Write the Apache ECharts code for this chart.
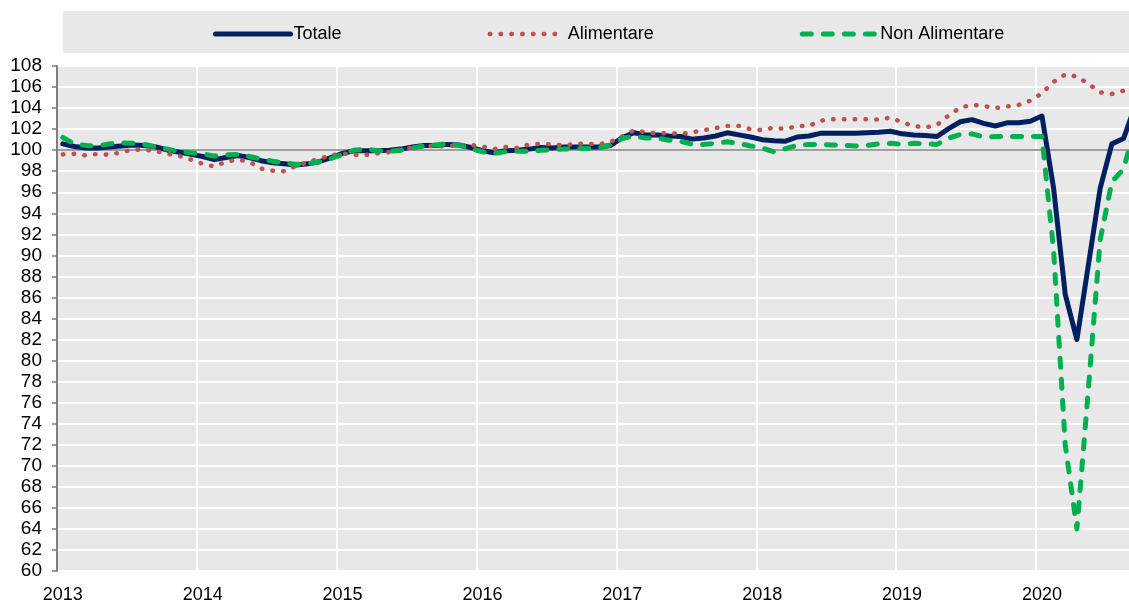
<!DOCTYPE html>
<html>
<head>
<meta charset="utf-8">
<title>Indici vendite</title>
<script src="https://cdn.jsdelivr.net/npm/echarts@6/dist/echarts.min.js"></script>
<style>
  html, body { margin: 0; padding: 0; background: #fff; }
  #chart { width: 1129px; height: 611px; }
</style>
</head>
<body>
<div id="chart"></div>
<script>
// years shown on the axis, one category per month
const years = ['2013', '2014', '2015', '2016', '2017', '2018', '2019', '2020']
const monthsIn2020 = 9
const months = []
years.forEach(y => {
  const n = y === '2020' ? monthsIn2020 : 12
  for (let m = 1; m <= n; m++) months.push(y + '-' + String(m).padStart(2, '0'))
})

const yTicks = { min: 60, max: 108, step: 2 }

// Totale
const totale = [
  100.6, 100.35, 100.2, 100.2, 100.3, 100.4, 100.5, 100.45, 100.3, 100.0, 99.8, 99.6,
  99.4, 99.1, 99.3, 99.5, 99.3, 99.0, 98.8, 98.7, 98.6, 98.7, 98.9, 99.3,
  99.7, 99.95, 99.95, 99.95, 100.0, 100.1, 100.3, 100.45, 100.45, 100.55, 100.5, 100.25,
  99.95, 99.75, 99.95, 100.0, 100.1, 100.25, 100.2, 100.3, 100.3, 100.3, 100.3, 100.45,
  101.2, 101.65, 101.45, 101.45, 101.35, 101.3, 101.05, 101.15, 101.35, 101.65, 101.45, 101.25,
  101.0, 100.9, 100.85, 101.25, 101.35, 101.6, 101.6, 101.6, 101.6, 101.65, 101.7, 101.8,
  101.55, 101.45, 101.4, 101.3, 102.05, 102.7, 102.9, 102.55, 102.3, 102.6, 102.6, 102.75,
  103.25, 96.4, 86.3, 82.0, 89.2, 96.4, 100.6, 101.1, 104.2
]

// Alimentare
const alimentare = [
  99.6, 99.65, 99.5, 99.65, 99.55, 99.8, 100.05, 100.05, 99.9, 99.65, 99.45, 99.1,
  98.7, 98.45, 98.9, 99.1, 98.9, 98.25, 98.05, 98.0, 98.5, 98.85, 99.2, 99.5,
  99.7, 99.55, 99.55, 99.7, 99.8, 100.05, 100.25, 100.45, 100.35, 100.4, 100.45, 100.5,
  100.35, 100.1, 100.3, 100.2, 100.55, 100.6, 100.55, 100.45, 100.6, 100.6, 100.55, 100.8,
  101.3, 101.9, 101.7, 101.6, 101.6, 101.55, 101.7, 101.9, 102.1, 102.3, 102.3, 102.0,
  101.9, 102.15, 102.0, 102.3, 102.3, 102.8, 102.95, 102.95, 102.95, 102.95, 102.9, 103.1,
  102.65, 102.3, 102.15, 102.4, 103.3, 104.05, 104.3, 104.2, 104.0, 104.15, 104.3, 104.7,
  105.4, 106.5, 107.2, 107.0, 106.3, 105.5, 105.35, 105.65, 105.9
]

// Non Alimentare
const nonAlimentare = [
  101.2, 100.6, 100.45, 100.4, 100.6, 100.7, 100.65, 100.55, 100.3, 100.1, 99.85, 99.75,
  99.65, 99.45, 99.55, 99.6, 99.4, 99.15, 98.95, 98.8, 98.65, 98.7, 98.9, 99.2,
  99.6, 100.0, 100.1, 99.95, 99.9, 100.0, 100.2, 100.4, 100.5, 100.6, 100.45, 100.15,
  99.85, 99.7, 99.85, 99.9, 99.9, 100.0, 100.05, 100.1, 100.15, 100.15, 100.2, 100.5,
  101.1, 101.35, 101.15, 101.15, 100.95, 100.85, 100.55, 100.55, 100.65, 100.8, 100.65, 100.4,
  100.2, 99.85, 100.15, 100.45, 100.55, 100.55, 100.5, 100.45, 100.4, 100.45, 100.6, 100.65,
  100.55, 100.65, 100.6, 100.55, 101.15, 101.5, 101.55, 101.25, 101.3, 101.3, 101.3, 101.3,
  101.3, 90.5, 72.0, 64.0, 77.5, 91.5, 97.0, 98.2, 102.2
]

const font = "'Liberation Sans', Arial, sans-serif"

const styleTotale = { width: 5, color: '#002060', cap: 'round', join: 'round' }
const styleAlim = { width: 4.5, color: '#c0504d', type: [0.5, 10.3], cap: 'round', join: 'round' }
const styleNonAlim = { width: 5, color: '#00b050', type: [9, 12], cap: 'round', join: 'round' }

const chart = echarts.init(document.getElementById('chart'))

chart.setOption({
  animation: false,
  textStyle: { fontFamily: font },
  graphic: [
    {
      type: 'rect',
      left: 63, top: 11,
      shape: { width: 1070, height: 42 },
      style: { fill: '#e8e8e8' },
      z: -1
    }
  ],
  legend: {
    left: 208,
    top: 20,
    itemWidth: 75,
    itemHeight: 14,
    itemGap: 146,
    itemStyle: { opacity: 0 },
    textStyle: { fontSize: 18, color: '#000', fontFamily: font, padding: [0, 0, 0, -2] },
    data: [
      { name: 'Totale', lineStyle: styleTotale },
      { name: 'Alimentare', lineStyle: styleAlim },
      { name: 'Non Alimentare', lineStyle: styleNonAlim }
    ]
  },
  grid: {
    left: 57,
    right: -12,
    top: 66,
    bottom: 40,
    outerBoundsMode: 'none',
    containLabel: false,
    show: true,
    backgroundColor: '#e8e8e8',
    borderWidth: 0
  },
  xAxis: {
    type: 'category',
    data: months,
    boundaryGap: true,
    axisLine: { show: false },
    axisTick: { show: false },
    axisLabel: {
      interval: (i) => i % 12 === 0,
      formatter: (v) => v.slice(0, 4),
      fontSize: 18,
      color: '#000',
      margin: 15
    },
    splitLine: {
      show: true,
      interval: (i) => i % 12 === 0,
      lineStyle: { color: '#fff', width: 2 }
    }
  },
  yAxis: {
    type: 'value',
    min: yTicks.min,
    max: yTicks.max,
    interval: yTicks.step,
    axisLine: { show: true, lineStyle: { color: '#7f7f7f', width: 2 } },
    axisTick: { show: true, length: 5, lineStyle: { color: '#7f7f7f', width: 1.5 } },
    axisLabel: { fontSize: 19, color: '#000', margin: 15 },
    splitLine: { lineStyle: { color: '#fff', width: 2 } }
  },
  series: [
    {
      name: 'Totale',
      type: 'line',
      data: totale,
      symbol: 'none',
      color: '#002060',
      lineStyle: styleTotale,
      markLine: {
        silent: true,
        symbol: 'none',
        z: 1,
        label: { show: false },
        lineStyle: { color: '#7f7f7f', width: 1.5, type: 'solid' },
        data: [{ yAxis: 100 }]
      }
    },
    {
      name: 'Alimentare',
      type: 'line',
      data: alimentare,
      symbol: 'none',
      color: '#c0504d',
      lineStyle: styleAlim
    },
    {
      name: 'Non Alimentare',
      type: 'line',
      data: nonAlimentare,
      symbol: 'none',
      color: '#00b050',
      lineStyle: styleNonAlim
    }
  ]
})
</script>
</body>
</html>
